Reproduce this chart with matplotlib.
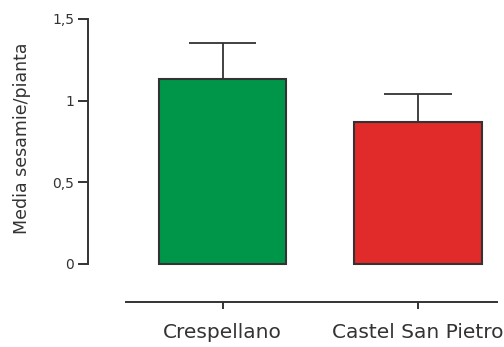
import matplotlib
matplotlib.use('Agg')
import matplotlib.pyplot as plt

# medie e errori (solo barra superiore)
localita = ['Crespellano', 'Castel San Pietro']
medie = [1.13, 0.87]
errori = [0.22, 0.17]
colori = ['#009649', '#E12A2A']
yticks = [0, 0.5, 1, 1.5]
ytick_labels = ['0', '0,5', '1', '1,5']

plt.rcParams['font.family'] = ['DejaVu Sans']
scuro = '#333333'

fig = plt.figure(figsize=(5.04, 3.47), dpi=100)
ax = fig.add_axes([88 / 504, 1 - 301.7 / 347, (497 - 88) / 504, (301.7 - 19) / 347])

x = list(range(len(localita)))
ax.bar(x, medie, width=0.65, color=colori, edgecolor=scuro, linewidth=1.5, zorder=2)

# barre d'errore solo verso l'alto, senza cappello alla base
cime = [m + e for m, e in zip(medie, errori)]
ax.vlines(x, medie, cime, color=scuro, linewidth=1.3, zorder=1)
ax.hlines(cime, [i - 0.173 for i in x], [i + 0.173 for i in x],
          color=scuro, linewidth=1.3, zorder=1)

ax.set_xlim(-0.688, 1.404)
ax.set_ylim(-0.231, 1.5)

for side in ['top', 'right']:
    ax.spines[side].set_visible(False)
ax.spines['left'].set_bounds(0, 1.5)
ax.spines['bottom'].set_bounds(-0.494, 1.404)
for side in ['left', 'bottom']:
    ax.spines[side].set_color(scuro)
    ax.spines[side].set_linewidth(1.4)

ax.set_yticks(yticks)
ax.set_yticklabels(ytick_labels)
ax.set_xticks(x)
ax.set_xticklabels(localita)
ax.tick_params(axis='y', direction='out', length=7, width=1.4, color=scuro,
               labelsize=10, labelcolor=scuro, pad=3)
ax.tick_params(axis='x', direction='out', length=5, width=1.4, color=scuro,
               labelsize=14.5, labelcolor=scuro, pad=10.5)

ax.set_ylabel('Media sesamie/pianta', fontsize=12.5, color=scuro)
ax.yaxis.set_label_coords(-0.14, 0.579)

fig.savefig('out.png', dpi=100)
